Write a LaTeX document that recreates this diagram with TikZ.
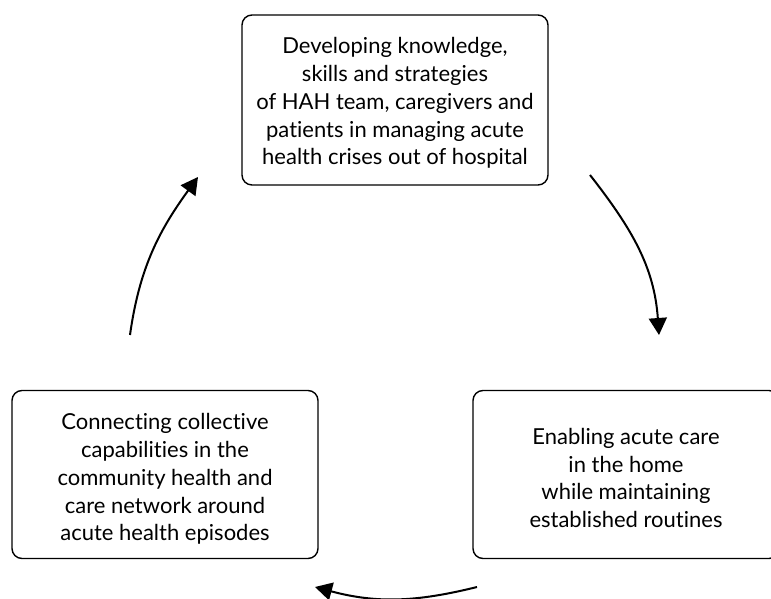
\documentclass[tikz,border=0pt]{standalone}
\usepackage{fontspec}
\setmainfont{Lato}[Ligatures=NoCommon]
\usetikzlibrary{arrows.meta}
\begin{document}
\begin{tikzpicture}[x=1pt,y=1pt,
  box/.style={draw, line width=1.4pt, rounded corners=10pt, minimum width=306pt,
    minimum height=168pt, inner sep=0pt},
  txt/.style={align=center, inner sep=0pt, font=\fontsize{22}{27.8}\selectfont},
  cyc/.style={line width=2pt, -{Triangle[length=17pt,width=18pt]}}]
\useasboundingbox (0,0) rectangle (771,599);
\clip (0,0) rectangle (771,599);
\node[box, minimum height=170pt] (top) at (395,499) {};
\node[txt] (toptext) at ([yshift=-3pt]top.center) {Developing knowledge,\\skills and strategies\\of HAH team, caregivers and\\patients in managing acute\\health crises out of hospital};
\node[box] (left) at (165,124.5) {};
\node[txt] (lefttext) at ([yshift=-4.5pt]left.center) {Connecting collective\\capabilities in the\\community health and\\care network around\\acute health episodes};
\node[box] (right) at (626,124.5) {};
\node[txt] (righttext) at ([yshift=-3.5pt]right.center) {Enabling acute care\\in the home\\while maintaining\\established routines};
\coordinate (a1s) at (590,424);
\coordinate (a1e) at (659,264);
\coordinate (a2s) at (477,12);
\coordinate (a2e) at (315,12);
\coordinate (a3s) at (130,264);
\coordinate (a3e) at (198,422);
\draw[cyc] (a1s) to[out=-52,in=94] (a1e);
\draw[cyc] (a2s) to[out=-166,in=-15] (a2e);
\draw[cyc] (a3s) to[out=82,in=-126] (a3e);
\end{tikzpicture}
\end{document}
